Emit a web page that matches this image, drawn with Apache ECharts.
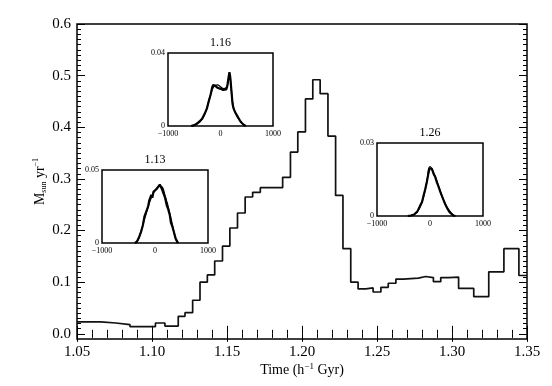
<!DOCTYPE html>
<html>
<head>
<meta charset="utf-8">
<script src="https://cdn.jsdelivr.net/npm/echarts@6/dist/echarts.min.js"></script>
<style>
  body { margin: 0; background: #fff; }
  #chart { width: 552px; height: 386px; }
</style>
</head>
<body>
<div id="chart"></div>
<script>
// main histogram: left bin edges and star formation rate per bin
const binEdges = [1.05, 1.0659, 1.0759, 1.0853, 1.1023, 1.1086, 1.1175, 1.1220, 1.1271, 1.1320,
  1.1369, 1.1418, 1.1470, 1.1519, 1.1570, 1.1621, 1.1671, 1.1722, 1.1771, 1.1871,
  1.1923, 1.1972, 1.2023, 1.2072, 1.2121, 1.2173, 1.2224, 1.2273, 1.2325, 1.2374,
  1.2425, 1.2474, 1.2526, 1.2575, 1.2626, 1.2675, 1.2776, 1.2825, 1.2876, 1.2925,
  1.2977, 1.3044, 1.3145, 1.3245, 1.3346, 1.3446]
const sfrValues = [0.023, 0.021, 0.018, 0.014, 0.021, 0.015, 0.034, 0.041, 0.065, 0.100,
  0.114, 0.141, 0.170, 0.205, 0.234, 0.265, 0.274, 0.283, 0.283, 0.303,
  0.352, 0.391, 0.455, 0.492, 0.465, 0.383, 0.268, 0.165, 0.100, 0.087,
  0.089, 0.081, 0.090, 0.098, 0.106, 0.108, 0.111, 0.109, 0.101, 0.109,
  0.110, 0.088, 0.072, 0.120, 0.165, 0.113]
const xEnd = 1.35

const xTicks = [1.05, 1.10, 1.15, 1.20, 1.25, 1.30, 1.35]
const yTicks = [0.0, 0.1, 0.2, 0.3, 0.4, 0.5, 0.6]

// inset velocity distributions: [velocity, fraction]
const inset113Data = [[-380, 0], [-340, 0.001], [-300, 0.004], [-260, 0.008], [-230, 0.012], [-200, 0.018],
  [-180, 0.017], [-160, 0.022], [-130, 0.025], [-110, 0.029], [-90, 0.028], [-70, 0.033], [-50, 0.031],
  [-30, 0.035], [0, 0.036], [30, 0.037], [60, 0.038], [90, 0.040], [110, 0.039], [130, 0.037], [160, 0.034],
  [190, 0.031], [220, 0.026], [250, 0.023], [280, 0.019], [300, 0.014], [330, 0.011], [360, 0.007],
  [390, 0.003], [420, 0.001], [440, 0]]
const inset113Fit = [[-360, 0], [-300, 0.004], [-200, 0.016], [-100, 0.028], [0, 0.036], [100, 0.039],
  [200, 0.031], [300, 0.017], [380, 0.004], [420, 0]]

const inset116Data = [[-560, 0], [-500, 0.0005], [-440, 0.0015], [-400, 0.0025], [-350, 0.004], [-300, 0.0068],
  [-260, 0.0095], [-220, 0.014], [-190, 0.017], [-160, 0.021], [-140, 0.0225], [-120, 0.0235], [-100, 0.022],
  [-80, 0.0225], [-60, 0.021], [-40, 0.0215], [-10, 0.0205], [20, 0.0208], [50, 0.0198], [80, 0.0188],
  [110, 0.02], [130, 0.022], [150, 0.026], [170, 0.0295], [185, 0.027], [200, 0.022], [215, 0.017],
  [230, 0.012], [250, 0.0095], [280, 0.0075], [310, 0.006], [340, 0.0045], [370, 0.003], [400, 0.0018],
  [440, 0.0008], [480, 0]]
const inset116Fit = [[-540, 0], [-400, 0.002], [-300, 0.0065], [-200, 0.016], [-130, 0.0215], [-60, 0.0225],
  [0, 0.0215], [60, 0.0205], [110, 0.021], [150, 0.025], [175, 0.028], [200, 0.022], [240, 0.011],
  [300, 0.006], [380, 0.0025], [460, 0]]

const inset126Data = [[-420, 0], [-390, 0.0005], [-360, 0.0002], [-330, 0.0008], [-300, 0.0006], [-270, 0.0012],
  [-240, 0.0018], [-210, 0.0025], [-180, 0.0045], [-150, 0.0058], [-120, 0.0085], [-90, 0.011], [-60, 0.014],
  [-30, 0.0175], [-10, 0.0195], [10, 0.0203], [30, 0.0195], [50, 0.0185], [70, 0.0172], [100, 0.016],
  [130, 0.0138], [160, 0.0122], [190, 0.0102], [220, 0.0085], [250, 0.0068], [280, 0.0052], [310, 0.0038],
  [340, 0.0026], [370, 0.0016], [400, 0.0008], [440, 0.0002], [480, 0]]
const inset126Fit = [[-380, 0], [-250, 0.0015], [-150, 0.0058], [-60, 0.014], [0, 0.0203], [100, 0.016],
  [200, 0.0098], [300, 0.0045], [400, 0.0012], [470, 0]]

const insets = [
  { title: '1.13', ymax: 0.05, data: inset113Data, fit: inset113Fit, box: [102, 170, 106, 73] },
  { title: '1.16', ymax: 0.04, data: inset116Data, fit: inset116Fit, box: [168, 53, 105, 73] },
  { title: '1.26', ymax: 0.03, data: inset126Data, fit: inset126Fit, box: [377, 143, 106, 73] }
]

const FONT = 'Liberation Serif'
const yMinor = []
for (let i = 0; i <= 60; i++) yMinor.push(i / 100)

const stepData = binEdges.map((x, i) => [x, sfrValues[i]])
stepData.push([xEnd, sfrValues[sfrValues.length - 1]])

const chart = echarts.init(document.getElementById('chart'), null, { renderer: 'canvas' })

const grids = [{
  left: 77, top: 24, width: 450, height: 315,
  show: true, borderColor: '#000', borderWidth: 1.5, backgroundColor: 'transparent'
}]
const xAxes = [
  {
    type: 'value', gridIndex: 0, position: 'bottom', min: 1.05, max: 1.35, interval: 0.05,
    axisLine: { show: false },
    axisTick: { inside: true, length: 8, lineStyle: { color: '#000', width: 1 } },
    minorTick: { show: true, splitNumber: 5, length: 4, lineStyle: { color: '#000', width: 1 } },
    splitLine: { show: false },
    axisLabel: { fontFamily: FONT, fontSize: 15, color: '#000', margin: 6, formatter: v => v.toFixed(2) },
    name: '{a|Time (h}{sup|\u22121}{a| Gyr)}',
    nameLocation: 'middle', nameGap: 23, nameMoveOverlap: false,
    nameTextStyle: {
      rich: {
        a: { fontFamily: FONT, fontSize: 14, color: '#000', lineHeight: 16 },
        sup: { fontFamily: FONT, fontSize: 9, color: '#000', verticalAlign: 'top', lineHeight: 16 }
      }
    }
  },
  {
    type: 'value', gridIndex: 0, position: 'top', min: 1.05, max: 1.35, interval: 0.05,
    axisLine: { show: false },
    axisTick: { inside: true, length: 8, lineStyle: { color: '#000' } },
    minorTick: { show: true, splitNumber: 5, length: 4, lineStyle: { color: '#000' } },
    splitLine: { show: false },
    axisLabel: { show: false }
  }
]
const yAxes = [
  {
    type: 'value', gridIndex: 0, position: 'left', min: -0.01, max: 0.6, interval: 0.01,
    axisLine: { show: false },
    axisTick: { inside: true, length: 8, customValues: yTicks, lineStyle: { color: '#000' } },
    splitLine: { show: false },
    axisLabel: { customValues: yTicks, fontFamily: FONT, fontSize: 15, color: '#000', margin: 6, formatter: v => v.toFixed(1) },
    name: '{a|M}{sub|sun}{a| yr}{sup|\u22121}',
    nameLocation: 'middle', nameGap: 29, nameMoveOverlap: false,
    nameTextStyle: {
      rich: {
        a: { fontFamily: FONT, fontSize: 14, color: '#000', lineHeight: 16 },
        sub: { fontFamily: FONT, fontSize: 8, color: '#000', verticalAlign: 'bottom', lineHeight: 16 },
        sup: { fontFamily: FONT, fontSize: 8, color: '#000', verticalAlign: 'top', lineHeight: 16 }
      }
    }
  },
  {
    type: 'value', gridIndex: 0, position: 'left', min: -0.01, max: 0.6, interval: 0.01,
    axisLine: { show: false },
    axisTick: { inside: true, length: 4, customValues: yMinor, lineStyle: { color: '#000' } },
    splitLine: { show: false },
    axisLabel: { show: false, customValues: yMinor }
  },
  {
    type: 'value', gridIndex: 0, position: 'right', min: -0.01, max: 0.6, interval: 0.01,
    axisLine: { show: false },
    axisTick: { inside: true, length: 8, customValues: yTicks, lineStyle: { color: '#000' } },
    splitLine: { show: false },
    axisLabel: { show: false, customValues: yTicks }
  },
  {
    type: 'value', gridIndex: 0, position: 'right', min: -0.01, max: 0.6, interval: 0.01,
    axisLine: { show: false },
    axisTick: { inside: true, length: 4, customValues: yMinor, lineStyle: { color: '#000' } },
    splitLine: { show: false },
    axisLabel: { show: false, customValues: yMinor }
  }
]
const series = [{
  type: 'line',
  xAxisIndex: 0,
  yAxisIndex: 0,
  data: stepData,
  step: 'end',
  showSymbol: false,
  lineStyle: { color: '#111', width: 1.7 },
  z: 3
}]

insets.forEach((ins, k) => {
  const g = k + 1
  grids.push({
    left: ins.box[0], top: ins.box[1], width: ins.box[2], height: ins.box[3],
    show: true, borderColor: '#000', borderWidth: 1.5, backgroundColor: '#fff', z: 5
  })
  const xi = xAxes.length
  xAxes.push({
    type: 'value', gridIndex: g, position: 'bottom', min: -1000, max: 1000, interval: 1000,
    axisLine: { show: false }, axisTick: { show: false }, splitLine: { show: false },
    axisLabel: {
      fontFamily: FONT, fontSize: 8, color: '#000', margin: 4,
      formatter: v => (v < 0 ? '\u2212' + Math.abs(v) : String(v))
    }
  })
  xAxes.push({
    type: 'value', gridIndex: g, position: 'top', min: -1000, max: 1000, interval: 1000,
    axisLine: { show: false },
    axisTick: { inside: true, length: 3, customValues: [0], lineStyle: { color: '#000' } },
    splitLine: { show: false },
    axisLabel: { show: false, customValues: [0] },
    name: ins.title, nameLocation: 'middle', nameGap: 4, nameMoveOverlap: false,
    nameTextStyle: { fontFamily: FONT, fontSize: 12, color: '#000', verticalAlign: 'bottom' }
  })
  const yi = yAxes.length
  yAxes.push({
    type: 'value', gridIndex: g, min: 0, max: ins.ymax,
    axisLine: { show: false }, axisTick: { show: false }, splitLine: { show: false },
    axisLabel: {
      customValues: [0, ins.ymax], fontFamily: FONT, fontSize: 8, color: '#000', margin: 3,
      formatter: v => (v === 0 ? '0' : String(v))
    }
  })
  series.push({
    type: 'line', xAxisIndex: xi, yAxisIndex: yi, data: ins.fit, smooth: true,
    showSymbol: false, lineStyle: { color: '#000', width: 1.3 }, z: 6
  })
  series.push({
    type: 'line', xAxisIndex: xi, yAxisIndex: yi, data: ins.data,
    showSymbol: false, lineStyle: { color: '#000', width: 2.2 }, z: 6
  })
})

const option = {
  backgroundColor: '#fff',
  animation: false,
  grid: grids,
  xAxis: xAxes,
  yAxis: yAxes,
  series: series
}

chart.setOption(option)
</script>
</body>
</html>
